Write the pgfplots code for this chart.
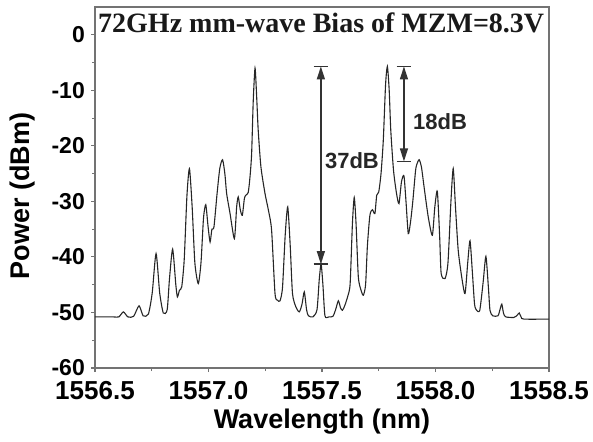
\documentclass[border=0pt]{standalone}
\usepackage{pgfplots}
\pgfplotsset{compat=1.18}
\usepackage{fontspec}
\setmainfont{Liberation Sans}
\newfontfamily\timesfont{Liberation Serif}
\usetikzlibrary{arrows.meta}
\pgfplotstableread{
x y
1556.500 -50.8
1556.580 -50.8
1556.605 -50.8
1556.625 -49.9
1556.645 -50.8
1556.670 -50.7
1556.694 -48.8
1556.712 -50.6
1556.735 -50.3
1556.752 -46.5
1556.769 -39.4
1556.785 -46.5
1556.801 -50.1
1556.818 -49.5
1556.828 -44.0
1556.842 -38.6
1556.856 -45.0
1556.863 -47.2
1556.872 -46.0
1556.882 -45.4
1556.893 -40.5
1556.905 -29.0
1556.916 -24.1
1556.928 -31.0
1556.940 -41.1
1556.955 -44.8
1556.967 -41.0
1556.978 -33.0
1556.988 -30.6
1556.998 -34.5
1557.007 -37.3
1557.015 -35.0
1557.024 -34.6
1557.038 -28.5
1557.050 -24.0
1557.062 -22.5
1557.072 -25.0
1557.080 -28.6
1557.095 -32.2
1557.114 -36.7
1557.124 -31.0
1557.131 -29.2
1557.140 -31.5
1557.149 -32.5
1557.158 -29.5
1557.164 -28.9
1557.175 -28.4
1557.183 -25.5
1557.190 -21.4
1557.197 -12.0
1557.205 -6.0
1557.212 -11.0
1557.219 -17.2
1557.231 -23.8
1557.249 -28.6
1557.265 -31.8
1557.278 -35.2
1557.293 -46.6
1557.304 -47.8
1557.315 -47.9
1557.326 -45.5
1557.338 -36.0
1557.349 -31.0
1557.360 -38.0
1557.370 -46.6
1557.385 -49.0
1557.400 -49.9
1557.412 -48.5
1557.422 -46.3
1557.432 -49.5
1557.440 -50.6
1557.460 -50.8
1557.478 -49.5
1557.488 -44.0
1557.496 -41.3
1557.504 -45.0
1557.513 -50.6
1557.530 -50.8
1557.548 -50.7
1557.560 -49.5
1557.572 -47.9
1557.582 -49.2
1557.590 -49.6
1557.600 -48.8
1557.614 -47.0
1557.624 -44.8
1557.634 -34.0
1557.642 -29.3
1557.650 -34.0
1557.660 -43.6
1557.672 -46.0
1557.682 -46.9
1557.692 -45.0
1557.700 -38.0
1557.711 -32.5
1557.722 -31.5
1557.733 -32.2
1557.741 -28.9
1557.750 -28.3
1557.760 -25.0
1557.770 -19.0
1557.780 -9.0
1557.788 -5.7
1557.796 -10.0
1557.803 -17.2
1557.815 -24.4
1557.828 -28.5
1557.839 -30.4
1557.850 -26.5
1557.861 -25.4
1557.870 -30.0
1557.880 -35.8
1557.890 -33.7
1557.900 -30.0
1557.912 -24.5
1557.918 -23.3
1557.928 -22.5
1557.938 -23.8
1557.950 -27.5
1557.968 -32.8
1557.986 -36.1
1557.997 -31.0
1558.008 -28.2
1558.018 -36.0
1558.025 -43.0
1558.042 -43.9
1558.055 -41.0
1558.068 -30.0
1558.078 -24.1
1558.088 -31.0
1558.100 -38.8
1558.115 -43.5
1558.130 -46.6
1558.142 -41.0
1558.152 -37.1
1558.162 -42.5
1558.172 -48.5
1558.181 -49.6
1558.195 -49.6
1558.210 -44.5
1558.222 -39.9
1558.233 -45.5
1558.240 -49.6
1558.252 -50.6
1558.275 -50.6
1558.284 -49.5
1558.292 -48.5
1558.300 -50.2
1558.310 -50.8
1558.345 -50.9
1558.360 -50.5
1558.369 -50.1
1558.378 -50.9
1558.390 -51.2
1558.500 -51.2
}\spectrum
\begin{document}
\begin{tikzpicture}
\begin{axis}[name=ax, scale only axis, width=454pt, height=361pt,
  xmin=1556.5, xmax=1558.5, ymin=-60, ymax=5,
  xtick={1556.5,1557,1557.5,1558,1558.5},
  xticklabels={1556.5,1557.0,1557.5,1558.0,1558.5},
  ytick={-60,-50,-40,-30,-20,-10,0},
  yticklabels={-60,-50,-40,-30,-20,-10,0},
  minor xtick={1556.75,1557.25,1557.75,1558.25},
  minor ytick={-55,-45,-35,-25,-15,-5},
  tick align=outside, major tick length=4pt, minor tick length=3pt,
  xtick pos=left, ytick pos=left,
  axis line style={black!55, line width=1.1pt},
  every tick/.style={black!55, line width=1.1pt},
  xticklabel style={font=\fontsize{26}{30}\selectfont\bfseries, inner sep=2pt, yshift=-7pt},
  yticklabel style={font=\fontsize{23}{28}\selectfont\bfseries, inner sep=2pt, xshift=-4pt},
  xlabel={Wavelength (nm)}, ylabel={Power (dBm)},
  label style={font=\fontsize{27}{32}\selectfont\bfseries},
  xlabel style={at={(axis description cs:0.5,-0.1496)}, anchor=center},
  ylabel style={at={(axis description cs:-0.1586,0.476)}, anchor=center},
  clip=false,
]
\addplot[black!85, line width=1.1pt, smooth, tension=0.4] table[x=x,y=y] {\spectrum};
% annotations
\draw[black!80, line width=1.3pt, {Triangle[width=8pt,length=13pt]}-{Triangle[width=8pt,length=13pt]}] (axis cs:1557.495,-5.7) -- (axis cs:1557.495,-41.3);
\draw[black!80, line width=1.5pt] (axis cs:1557.463,-5.7) -- (axis cs:1557.527,-5.7);
\draw[black!80, line width=1.5pt] (axis cs:1557.463,-41.3) -- (axis cs:1557.527,-41.3);
\draw[black!80, line width=1.3pt, {Triangle[width=8pt,length=13pt]}-{Triangle[width=8pt,length=13pt]}] (axis cs:1557.861,-5.7) -- (axis cs:1557.861,-22.8);
\draw[black!80, line width=1.5pt] (axis cs:1557.829,-5.7) -- (axis cs:1557.893,-5.7);
\draw[black!80, line width=1.5pt] (axis cs:1557.829,-22.8) -- (axis cs:1557.893,-22.8);
\node[font=\fontsize{22}{26}\selectfont\bfseries, text=black!85, anchor=center] at (axis cs:1557.632,-22.6) {37dB};
\node[font=\fontsize{22}{26}\selectfont\bfseries, text=black!85, anchor=center] at (axis cs:1558.020,-15.6) {18dB};
\node[font=\timesfont\bfseries\fontsize{28}{32}\selectfont, text=black!90, anchor=base west, inner sep=0pt] at ([xshift=3pt,yshift=-25pt]rel axis cs:0,1) {72GHz mm-wave Bias of MZM=8.3V};
\end{axis}
\pgfresetboundingbox
\path[use as bounding box] ([xshift=-95pt,yshift=-73pt]ax.south west) rectangle ([xshift=44pt,yshift=7pt]ax.north east);
\end{tikzpicture}
\end{document}
